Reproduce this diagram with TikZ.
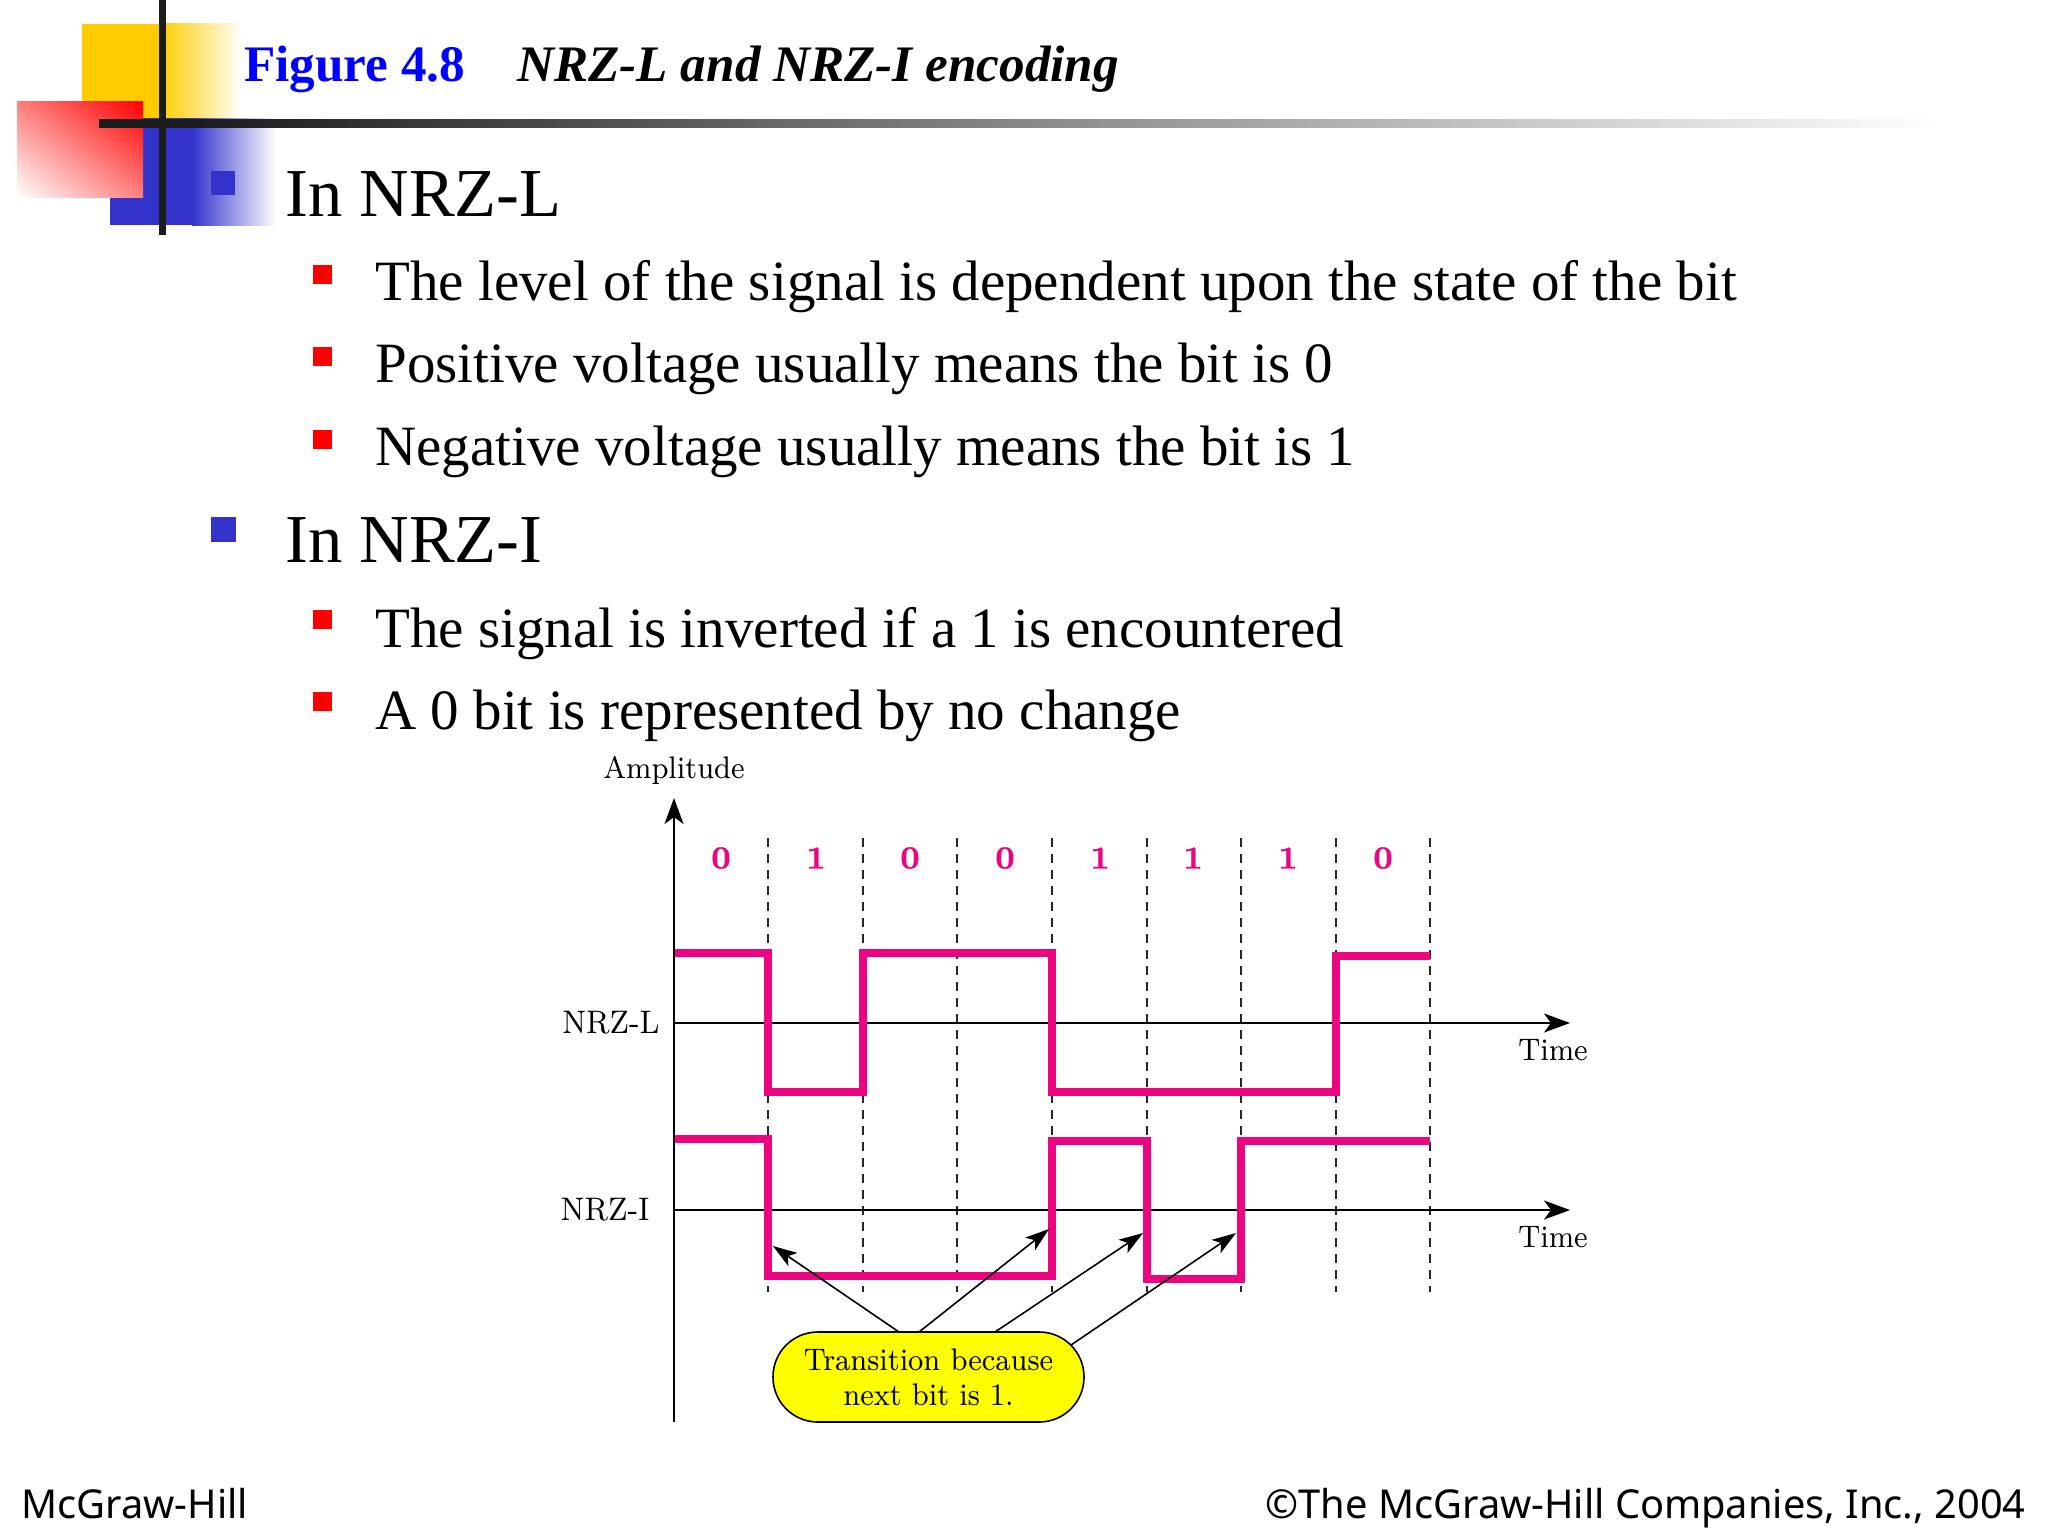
\documentclass[tikz,border=0pt]{standalone}
\usepackage{fontspec}
\setmainfont{Liberation Serif}
\newfontfamily\footfont{Noto Sans}
\newfontfamily\figfont[FakeStretch=0.92]{lmroman8-regular.otf}
\newfontfamily\bitfont[FakeBold=0.8]{lmroman8-bold.otf}
\usetikzlibrary{arrows.meta,shadings}
\definecolor{sigmag}{HTML}{EC0580}
\definecolor{decoY}{HTML}{FFCC00}
\definecolor{decoB}{HTML}{3333CC}
\definecolor{barK}{HTML}{1C1C1C}
\definecolor{callY}{HTML}{FFFF00}
\pgfdeclarehorizontalshading{barshade}{100bp}{color(0bp)=(barK);color(27.7bp)=(barK);color(75bp)=(white);color(100bp)=(white)}
\tikzset{
  x=0.5pt,y=-0.5pt,
  lone/.style={anchor=base west,inner sep=0pt,font=\fontsize{34.3}{34.3}\selectfont},
  ltwo/.style={anchor=base west,inner sep=0pt,font=\fontsize{28.5}{28.5}\selectfont},
  titletxt/.style={anchor=base west,inner sep=0pt,font=\fontsize{25.6}{25.6}\selectfont},
  foot/.style={inner sep=0pt,font=\footfont\fontsize{19.9}{19.9}\selectfont},
  figtxt/.style={inner sep=0pt,font=\figfont\fontsize{15.6}{15.6}\selectfont,text=black},
  nrztxt/.style={figtxt,font=\figfont\fontsize{16.3}{16.3}\selectfont},
  bittxt/.style={inner sep=0pt,font=\bitfont\fontsize{16}{16}\selectfont,text=sigmag},
  bulA/.style={fill=decoB,draw=none},
  bulB/.style={fill=red,draw=none},
  grid/.style={line width=1pt,dash pattern=on 4.5pt off 3.5pt,black!85},
  axisl/.style={line width=1.2pt,black,-{Stealth[length=13pt,width=9.5pt,inset=3.5pt]}},
  sig/.style={line width=3.8pt,sigmag,line join=miter,line cap=butt},
  pointer/.style={line width=0.8pt,black,-{Stealth[length=12pt,width=8pt,inset=3pt]}},
  callout/.style={draw=black,line width=0.8pt,fill=callY,rounded corners=22.4pt,minimum width=155.5pt,minimum height=45pt,inner sep=0pt,align=center,font=\figfont\fontsize{15.6}{17.5}\selectfont},
}
\begin{document}
\begin{tikzpicture}
\useasboundingbox (0,0) rectangle (2048,1536);
\fill[white] (0,0) rectangle (2048,1536);
% decoration
\fill[decoY] (82,24) rectangle (160,118);
\shade[left color=decoY,right color=white] (160,24) rectangle (242,118);
\fill[decoB] (110,118) rectangle (192,225);
\shade[left color=decoB,right color=white] (192,118) rectangle (276,225);
\shade[lower left=white,upper right=red,upper left=red!50!white,lower right=red!50!white] (17,102) rectangle (143,197);
\fill[barK] (159,0) rectangle (166,235);
\shade[shading=barshade] (99,119) rectangle (1940,127);
% title
\node[titletxt,text=blue] (figno) at (244,82) {\bfseries Figure 4.8};
\node[titletxt] (figname) at (517,82) {\bfseries\itshape NRZ-L and NRZ-I encoding};
% bullets
\fill[bulA] (211,171) rectangle (235,195);
\fill[bulA] (211,517) rectangle (236,542);
\foreach \yy in {274,356.5,439,619,701} {\fill[bulB] (313,\yy-9.5) rectangle (332,\yy+9.5);}
\node[lone] (h1) at (285,216) {In NRZ-L};
\node[ltwo] (l1) at (375,300.5) {The level of the signal is dependent upon the state of the bit};
\node[ltwo] (l2) at (375,382.5) {Positive voltage usually means the bit is 0};
\node[ltwo] (l3) at (375,465.5) {Negative voltage usually means the bit is 1};
\node[lone] (h2) at (285,562) {In NRZ-I};
\node[ltwo] (l4) at (375,647) {The signal is inverted if a 1 is encountered};
\node[ltwo] (l5) at (375,729.5) {A 0 bit is represented by no change};
% footer
\node[foot,anchor=base west] (fl) at (21,1518) {McGraw-Hill};
\node[foot,anchor=base east] (fr) at (2026,1518) {©The McGraw-Hill Companies, Inc., 2004};
% figure coordinates
\coordinate (ytop) at (674,798);
\coordinate (ybot) at (674,1422);
\coordinate (la) at (674,1023);
\coordinate (lb) at (1570,1023);
\coordinate (ia) at (674,1210);
\coordinate (ib) at (1570,1210);
\foreach \i/\xx in {0/768,1/863,2/957,3/1052,4/1147,5/1241,6/1336,7/1430} {
  \coordinate (t\i) at (\xx,838);
  \coordinate (b\i) at (\xx,1292);
  \draw[grid] (t\i) -- (b\i);
}
% labels
\node[figtxt] (amp) at (674,770) {Amplitude};
\node[nrztxt,anchor=east] (nl) at (660,1023) {NRZ-L};
\node[nrztxt,anchor=east] (ni) at (650,1210) {NRZ-I};
\node[figtxt] (t1lab) at (1553,1050) {Time};
\node[figtxt] (t2lab) at (1553,1237) {Time};
\foreach \n/\xx/\b in {a/721/0,c/816/1,d/910/0,e/1005/0,f/1100/1,g/1193/1,h/1288/1,j/1383/0} {
  \node[bittxt] (bit\n) at (\xx,858) {\b};
}
% axes
\draw[axisl] (la) -- (lb);
\draw[axisl] (ia) -- (ib);
\draw[axisl] (ybot) -- (ytop);
% signals
\draw[sig] (675,953) -- (768,953) -- (768,1092) -- (863,1092) -- (863,953) -- (1052,953) -- (1052,1092) -- (1336,1092) -- (1336,956) -- (1430,956);
\draw[sig] (675,1139) -- (768,1139) -- (768,1276) -- (1052,1276) -- (1052,1141) -- (1147,1141) -- (1147,1279) -- (1241,1279) -- (1241,1141) -- (1430,1141);
% callout
\node[callout] (call) at (928.5,1377) {Transition because\\next bit is 1.};
\coordinate (s1) at (899,1332);
\coordinate (s2) at (919,1332);
\coordinate (s3) at (995,1332);
\coordinate (s4) at (1071,1345);
\coordinate (e1) at (773,1246);
\coordinate (e2) at (1049,1229);
\coordinate (e3) at (1143,1233);
\coordinate (e4) at (1236,1233);
\draw[pointer] (s1) -- (e1);
\draw[pointer] (s2) -- (e2);
\draw[pointer] (s3) -- (e3);
\draw[pointer] (s4) -- (e4);
\end{tikzpicture}
\end{document}
